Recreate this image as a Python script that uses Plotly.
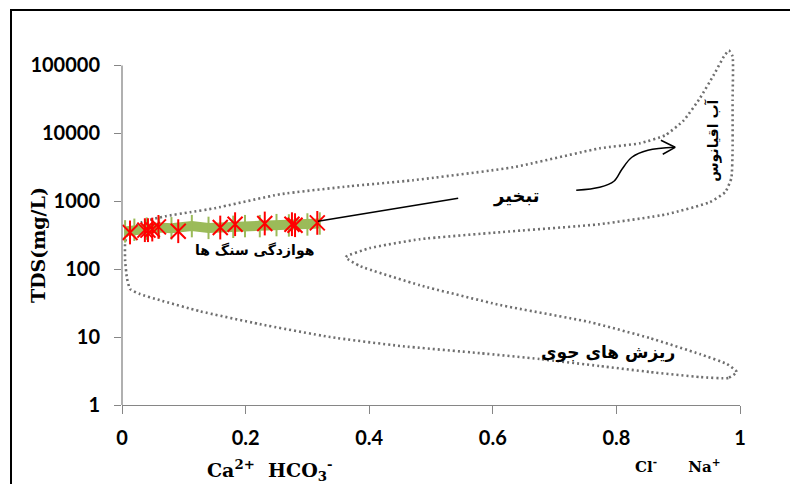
import plotly.graph_objects as go
import math

# ---- data ----
# Gibbs boundary (ratio, TDS mg/L)
boundary_ratio = [0.995, 0.981, 0.935, 0.854, 0.773, 0.676, 0.579, 0.450, 0.337, 0.223, 0.126, 0.061,
                  0.029, 0.013, 0.008, 0.005, 0.005, 0.008, 0.016, 0.032, 0.070, 0.110, 0.150, 0.256,
                  0.369, 0.471, 0.633, 0.773, 0.838, 0.879, 0.909, 0.935, 0.958, 0.974, 0.982, 0.988,
                  0.988, 0.988, 0.986, 0.976, 0.951, 0.882, 0.773, 0.612, 0.482, 0.401, 0.362, 0.385,
                  0.482, 0.612, 0.757, 0.854, 0.935, 0.979, 0.995]
boundary_tds = [3.06, 2.5, 2.58, 3.06, 3.75, 4.75, 5.8, 7.4, 10, 15.5, 24, 35,
                43, 51, 74, 136, 241, 316, 387, 491, 601, 689, 789, 1268,
                1663, 2037, 3162, 6015, 7130, 9350, 15530, 32700, 73700, 135600, 166000, 135600,
                30560, 5623, 2180, 1357, 967, 644, 459, 350, 276, 204, 150, 111,
                58, 29.6, 16.6, 9.67, 5.62, 4.0, 3.06]

# Sample series
cl_ratio = [0.013, 0.037, 0.042, 0.049, 0.059, 0.091, 0.159, 0.183, 0.231, 0.275, 0.280, 0.316]
cl_tds = [347, 375, 375, 383, 419, 362, 410, 459, 470, 459, 444, 480]

na_ratio = [0.005, 0.02, 0.04, 0.06, 0.08, 0.113, 0.14, 0.18, 0.199, 0.223, 0.25, 0.27, 0.30, 0.32]
na_tds = [360, 380, 395, 410, 400, 430, 405, 420, 430, 430, 445, 440, 455, 470]

# Annotation arrow path (evaporation)
evap_ratio = [0.735, 0.773, 0.796, 0.809, 0.825, 0.851, 0.895]
evap_tds = [1452, 1607, 1968, 2955, 4437, 5623, 6225]
head_ratio = [0.872, 0.895, 0.875]
head_tds = [7890, 6225, 4913]
line_ratio = [0.544, 0.317]
line_tds = [1107, 508]

xticks = [0, 0.2, 0.4, 0.6, 0.8, 1]
xticklabels = ["0", "0.2", "0.4", "0.6", "0.8", "1"]
yticks = [1, 10, 100, 1000, 10000, 100000]
yticklabels = ["1", "10", "100", "1000", "10000", "100000"]

YMAX_LOG = 5.3

fig = go.Figure()

fig.add_trace(go.Scatter(x=boundary_ratio, y=boundary_tds, mode="lines",
                         line=dict(color="#6f6f6f", width=2.6, dash="2px,3px", shape="spline", smoothing=0.45),
                         hoverinfo="skip"))
fig.add_trace(go.Scatter(x=na_ratio, y=na_tds, mode="lines+markers",
                         line=dict(color="#9BBB59", width=10),
                         marker=dict(symbol="line-ns", size=16, color="#9BBB59",
                                     line=dict(color="#9BBB59", width=2))))
fig.add_trace(go.Scatter(x=cl_ratio, y=cl_tds, mode="markers",
                         marker=dict(symbol="x-thin", size=15, color="red",
                                     line=dict(color="red", width=2))))
fig.add_trace(go.Scatter(x=cl_ratio, y=cl_tds, mode="markers",
                         marker=dict(symbol="line-ns", size=17, color="red",
                                     line=dict(color="red", width=2))))
fig.add_trace(go.Scatter(x=line_ratio, y=line_tds, mode="lines",
                         line=dict(color="black", width=1.5)))
fig.add_trace(go.Scatter(x=evap_ratio, y=evap_tds, mode="lines",
                         line=dict(color="black", width=1.5, shape="spline")))
fig.add_trace(go.Scatter(x=head_ratio, y=head_tds, mode="lines",
                         line=dict(color="black", width=1.5)))

def pfont(size):
    return dict(family="DejaVu Sans", size=size, color="black", weight="bold")

fig.add_annotation(x=0.638, y=math.log10(1186), text="تبخیر", showarrow=False, font=pfont(18))
fig.add_annotation(x=0.215, y=math.log10(190), text="هوازدگی سنگ ها", showarrow=False, font=pfont(14))
fig.add_annotation(x=0.786, y=math.log10(6.0), text="ریزش های جوی", showarrow=False, font=pfont(17))
fig.add_annotation(x=0.957, y=math.log10(7890), text="آب اقیانوس", showarrow=False, textangle=-90,
                   font=pfont(14))

serif = dict(family="DejaVu Serif", size=19, color="black", weight="bold")
fig.add_annotation(xref="paper", yref="paper", x=-0.136, y=0.444, xanchor="center", yanchor="middle",
                   text="TDS(mg/L)", textangle=-90, showarrow=False, font=serif)
fig.add_annotation(xref="paper", yref="paper", x=0.239, y=-0.183, xanchor="center", yanchor="middle",
                   text="Ca<sup>2+</sup>  HCO<sub>3</sub><sup>-</sup>", showarrow=False, font=serif)
fig.add_annotation(xref="paper", yref="paper", x=0.899, y=-0.169, xanchor="center", yanchor="middle",
                   text="Cl<sup>-</sup>      Na<sup>+</sup>", showarrow=False,
                   font=dict(family="DejaVu Serif", size=15, color="black", weight="bold"))

# outer frame
fig.add_shape(type="rect", xref="paper", yref="paper", x0=-0.1796, x1=1.3, y0=-0.5, y1=1.097,
              line=dict(color="black", width=2), layer="below")
# y axis line up to 100000 only
fig.add_shape(type="line", xref="paper", yref="paper", x0=0, x1=0, y0=0, y1=5 / YMAX_LOG,
              line=dict(color="#868686", width=1.3))

tickfont = dict(family="Lato", size=20, color="black", weight="bold")
fig.update_xaxes(range=[0, 1], tickvals=xticks, ticktext=xticklabels, showgrid=False, zeroline=False,
                 showline=True, linecolor="#868686", linewidth=1.3, ticks="outside", ticklen=8,
                 tickcolor="#868686", tickfont=tickfont, ticklabelstandoff=7)
fig.update_yaxes(type="log", range=[0, YMAX_LOG], tickvals=yticks, ticktext=yticklabels, showgrid=False,
                 zeroline=False, showline=False, ticks="outside",
                 ticklen=7, tickcolor="#868686", tickfont=tickfont, ticklabelstandoff=10)
fig.update_layout(width=790, height=476, margin=dict(l=114, r=58, t=37, b=79),
                  plot_bgcolor="white", paper_bgcolor="white", showlegend=False)
fig.write_html("out.html")
